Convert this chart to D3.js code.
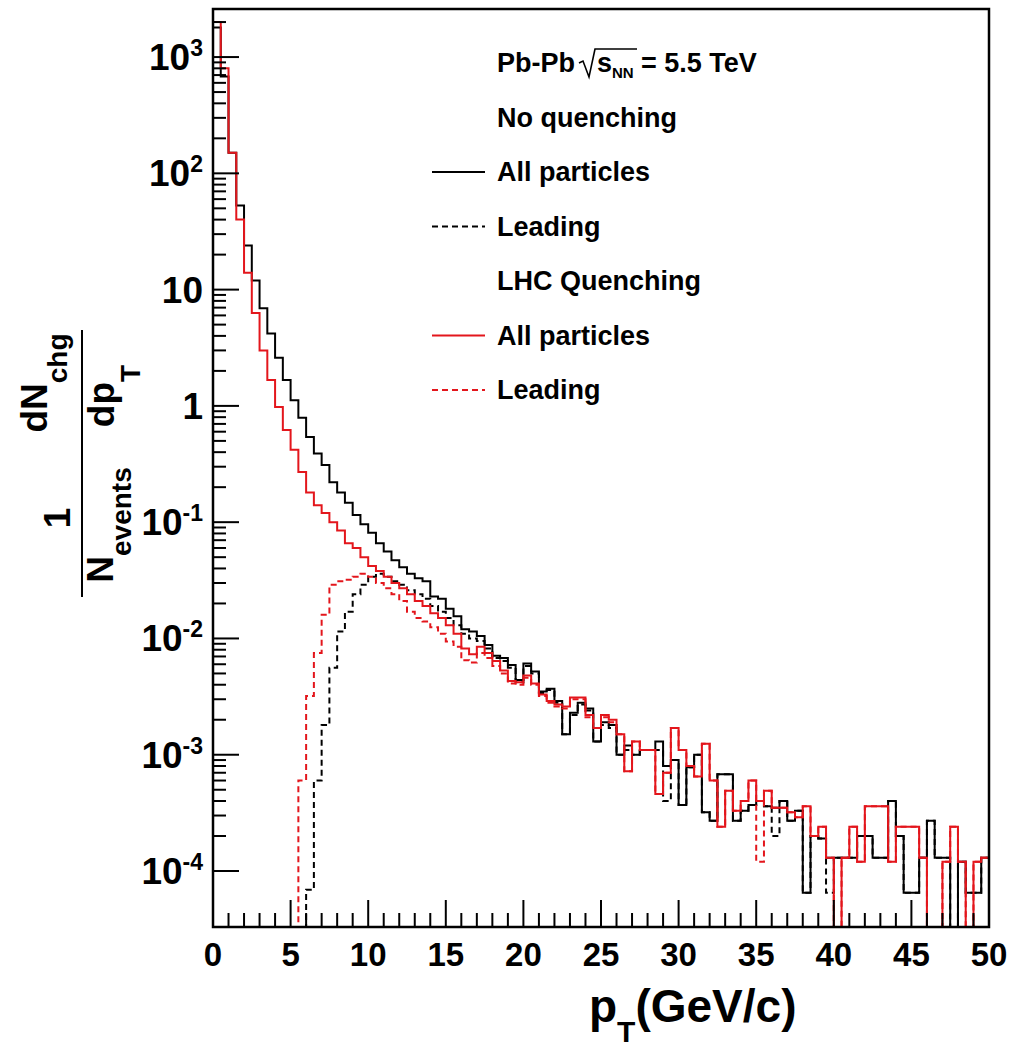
<!DOCTYPE html>
<html>
<head>
<meta charset="utf-8">
<script src="https://cdn.jsdelivr.net/npm/d3@7"></script>
<style>
  body { margin: 0; background: #fff; }
  text { font-family: "Liberation Sans", Arial, Helvetica, sans-serif; font-weight: bold; fill: #000; }
</style>
</head>
<body>
<svg width="1013" height="1050"></svg>
<script>
// Histogram binning: 100 bins of 0.5 GeV/c from 0 to 50
var binWidth = 0.5;
var nBins = 100;

// No quenching, all charged particles
var noQuenchAll = [
  1800, 680, 150, 53, 24, 12, 6.9, 4.2, 2.6, 1.67,
  1.12, 0.79, 0.54, 0.39, 0.31, 0.22, 0.18, 0.147, 0.115, 0.096,
  0.081, 0.066, 0.056, 0.047, 0.041, 0.036, 0.033, 0.031, 0.023, 0.022,
  0.018, 0.0155, 0.012, 0.0115, 0.0105, 0.0088, 0.0071, 0.0068, 0.0059, 0.0044,
  0.0061, 0.0052, 0.0035, 0.0037, 0.0029, 0.0015, 0.0023, 0.0028, 0.0025, 0.0013,
  0.0019, 0.0018, 0.0010, 0.0012, 0.0010, 0.0011, 0.0011, 0.0013, 0.00080, 0.00090,
  0.00037, 0.00078, 0.0010, 0.00032, 0.00027, 0.00068, 0.00068, 0.00027, 0.00033, 0.00037,
  0.00040, 0.00036, 0.00035, 0.00040, 0.00027, 0.00033, 0.000065, 0.00020, 0.00019, 0.00013,
  0.00013, 0.00013, 0.00013, 0.00020, 0.00020, 0.00013, 0.00013, 0.00040, 0.00020, 0.000065,
  0.000065, 0.00013, 0.00027, 0.00013, 0.00013, 0, 0.00012, 0.000065, 0.000065, 0.00013
];

// No quenching, leading particle
var noQuenchLead = [
  0, 0, 0, 0, 0, 0, 0, 0, 0, 0,
  0, 0, 0.000069, 0.0006, 0.0018, 0.0056, 0.0115, 0.017, 0.024, 0.029,
  0.034, 0.036, 0.034, 0.031, 0.029, 0.026, 0.024, 0.022, 0.019, 0.017,
  0.015, 0.013, 0.011, 0.010, 0.0095, 0.0082, 0.0068, 0.0064, 0.0056, 0.0042,
  0.0058, 0.0050, 0.0034, 0.0036, 0.0028, 0.0015, 0.0022, 0.0027, 0.0024, 0.0013,
  0.0018, 0.0017, 0.0010, 0.0011, 0.0010, 0.0011, 0.0011, 0.0011, 0.00040, 0.00090,
  0.00037, 0.00078, 0.0010, 0.00032, 0.00027, 0.00068, 0.00068, 0.00027, 0.00033, 0.00037,
  0.00040, 0.00036, 0.00020, 0.00040, 0.00027, 0.00033, 0.000065, 0.00020, 0.00019, 0.000065,
  0.00013, 0.00013, 0.00013, 0.00020, 0.00020, 0.00013, 0.00013, 0.00040, 0.00020, 0.000065,
  0.000065, 0.00013, 0.00027, 0.00013, 0.00013, 0, 0.00012, 0.000065, 0.000065, 0.00013
];

// LHC quenching, all charged particles
var quenchAll = [
  2000, 800, 150, 40, 14, 6.3, 3.0, 1.67, 0.98, 0.62,
  0.42, 0.27, 0.18, 0.14, 0.12, 0.10, 0.085, 0.066, 0.060, 0.050,
  0.042, 0.038, 0.034, 0.030, 0.027, 0.024, 0.021, 0.019, 0.0165, 0.015,
  0.013, 0.011, 0.0082, 0.0073, 0.0085, 0.0075, 0.0064, 0.0053, 0.0043, 0.0042,
  0.0048, 0.0041, 0.0033, 0.0029, 0.0027, 0.0026, 0.0031, 0.0031, 0.0022, 0.0017,
  0.0022, 0.0020, 0.0015, 0.00072, 0.0013, 0.0011, 0.0011, 0.00046, 0.00070, 0.0017,
  0.0011, 0.00080, 0.00065, 0.00124, 0.00060, 0.00024, 0.00049, 0.00033, 0.00040, 0.00060,
  0.00040, 0.00049, 0.00035, 0.00035, 0.00032, 0.00029, 0.00036, 0.00020, 0.00024, 0.00013,
  0, 0.00013, 0.00024, 0.00012, 0.00036, 0.00036, 0.00036, 0.00012, 0.00024, 0.00024,
  0.00024, 0.00013, 0, 0, 0.00012, 0.00024, 0.00012, 0, 0.00012, 0.00013
];

// LHC quenching, leading particle
var quenchLead = [
  0, 0, 0, 0, 0, 0, 0, 0, 0, 0,
  0, 0.0006, 0.0032, 0.0075, 0.016, 0.029, 0.031, 0.032, 0.034, 0.036,
  0.034, 0.030, 0.027, 0.024, 0.021, 0.017, 0.015, 0.014, 0.0125, 0.011,
  0.0094, 0.0085, 0.0065, 0.0062, 0.0075, 0.0068, 0.0058, 0.0050, 0.0041, 0.0040,
  0.0046, 0.0040, 0.0032, 0.0028, 0.0026, 0.0025, 0.0030, 0.0030, 0.0021, 0.0017,
  0.0021, 0.0019, 0.0015, 0.00072, 0.0013, 0.0011, 0.0011, 0.00046, 0.00070, 0.0017,
  0.0011, 0.00080, 0.00065, 0.00124, 0.00060, 0.00024, 0.00049, 0.00033, 0.00040, 0.00060,
  0.00012, 0.00049, 0.00035, 0.00035, 0.00032, 0.00029, 0.00036, 0.00020, 0.00024, 0.00013,
  0, 0.00013, 0.00024, 0.00012, 0.00036, 0.00036, 0.00036, 0.00012, 0.00024, 0.00024,
  0.00024, 0.00013, 0, 0, 0.00012, 0.00024, 0.00012, 0, 0.00012, 0.00013
];

var xTicksMajor = [0, 5, 10, 15, 20, 25, 30, 35, 40, 45, 50];
var yDecades = [-4, -3, -2, -1, 0, 1, 2, 3];

var legendRows = [
  {label: "No quenching"},
  {label: "All particles", color: "#000", dash: null},
  {label: "Leading", color: "#000", dash: "6,4"},
  {label: "LHC Quenching"},
  {label: "All particles", color: "#e3161c", dash: null},
  {label: "Leading", color: "#e3161c", dash: "6,4"}
];

var series = [
  {values: noQuenchAll, color: "#000", dash: null},
  {values: noQuenchLead, color: "#000", dash: "6,4"},
  {values: quenchAll, color: "#e3161c", dash: null},
  {values: quenchLead, color: "#e3161c", dash: "6,4"}
];

var svg = d3.select("svg"),
    frame = {left: 213, right: 989, top: 9, bottom: 927};

var x = d3.scaleLinear().domain([0, 50]).range([frame.left, frame.right]);
var y = d3.scaleLog().domain([3.3e-5, 2590]).range([frame.bottom, frame.top]).clamp(true);

// Histograms drawn as steps; empty bins sit on the bottom of the frame
var step = d3.line()
    .x(function(d) { return x(d[0]); })
    .y(function(d) { return d[1] > 0 ? y(d[1]) : frame.bottom; })
    .curve(d3.curveStepAfter);

var plot = svg.append("g");
plot.append("clipPath").attr("id", "clip")
  .append("rect")
    .attr("x", frame.left).attr("y", frame.top)
    .attr("width", frame.right - frame.left).attr("height", frame.bottom - frame.top);

series.forEach(function(s) {
  var pts = s.values.map(function(v, i) { return [i * binWidth, v]; });
  pts.push([nBins * binWidth, s.values[nBins - 1]]);
  plot.append("path")
    .datum(pts)
    .attr("clip-path", "url(#clip)")
    .attr("d", step)
    .attr("fill", "none")
    .attr("stroke", s.color)
    .attr("stroke-width", 2)
    .attr("stroke-dasharray", s.dash);
});

// Frame
svg.append("rect")
  .attr("x", frame.left).attr("y", frame.top)
  .attr("width", frame.right - frame.left).attr("height", frame.bottom - frame.top)
  .attr("fill", "none").attr("stroke", "#000").attr("stroke-width", 2.5);

// X ticks (inward) and labels
var xMinor = d3.range(0, 51, 1);
svg.append("g").selectAll("line").data(xMinor).enter().append("line")
  .attr("x1", function(d) { return x(d); }).attr("x2", function(d) { return x(d); })
  .attr("y1", frame.bottom)
  .attr("y2", function(d) { return frame.bottom - (d % 5 === 0 ? 27 : 14); })
  .attr("stroke", "#000").attr("stroke-width", 2);

svg.append("g").selectAll("text").data(xTicksMajor).enter().append("text")
  .attr("x", function(d) { return x(d); })
  .attr("y", 966)
  .attr("text-anchor", "middle")
  .style("font-size", "33px")
  .text(function(d) { return d; });

// Y ticks: decades and 2..9 minor marks
var yMinor = [];
yDecades.forEach(function(e) {
  d3.range(1, 10).forEach(function(m) { yMinor.push({v: m * Math.pow(10, e), major: m === 1}); });
});
yMinor = yMinor.filter(function(d) { return d.v >= y.domain()[0] && d.v <= y.domain()[1]; });
svg.append("g").selectAll("line").data(yMinor).enter().append("line")
  .attr("x1", frame.left)
  .attr("x2", function(d) { return frame.left + (d.major ? 26 : 13); })
  .attr("y1", function(d) { return y(d.v); }).attr("y2", function(d) { return y(d.v); })
  .attr("stroke", "#000").attr("stroke-width", 2);

var yLab = svg.append("g").selectAll("text").data(yDecades).enter().append("text")
  .attr("x", 203)
  .attr("y", function(d) { return y(Math.pow(10, d)) + 13; })
  .attr("text-anchor", "end")
  .style("font-size", "37px");
yLab.each(function(d) {
  var t = d3.select(this);
  if (d === 0) { t.text("1"); return; }
  if (d === 1) { t.text("10"); return; }
  t.append("tspan").text("10");
  t.append("tspan").attr("dy", -14).style("font-size", "23px").text(d);
});

// X axis title
var xt = svg.append("text").attr("x", 589).attr("y", 1022).style("font-size", "46px");
xt.append("tspan").text("p");
xt.append("tspan").attr("dy", 20).style("font-size", "30px").text("T");
xt.append("tspan").attr("dy", -20).text("(GeV/c)");

// Y axis title: 1/N_events * dN_chg/dp_T, rotated
var yt = svg.append("g").attr("transform", "translate(82,464) rotate(-90)");
yt.append("line").attr("x1", -133).attr("x2", 134).attr("y1", 0).attr("y2", 0)
  .attr("stroke", "#000").attr("stroke-width", 2);
yt.append("text").attr("x", -54).attr("y", -12).attr("text-anchor", "middle")
  .style("font-size", "37px").text("1");
var den1 = yt.append("text").attr("x", -61).attr("y", 31).attr("text-anchor", "middle")
  .style("font-size", "37px");
den1.append("tspan").text("N");
den1.append("tspan").attr("dy", 18).style("font-size", "28px").text("events");
var num2 = yt.append("text").attr("x", 81).attr("y", -35).attr("text-anchor", "middle")
  .style("font-size", "37px");
num2.append("tspan").text("dN");
num2.append("tspan").attr("dy", 20).style("font-size", "28px").text("chg");
var den2 = yt.append("text").attr("x", 68).attr("y", 32).attr("text-anchor", "middle")
  .style("font-size", "37px");
den2.append("tspan").text("dp");
den2.append("tspan").attr("dy", 26).style("font-size", "28px").text("T");

// Legend
var legX = 497, legY0 = 72, legStep = 54.5, legFont = "27px";
svg.append("text").attr("x", legX).attr("y", legY0).style("font-size", legFont).text("Pb-Pb");
svg.append("path")
  .attr("d", "M579," + (legY0 - 9) + " L583," + (legY0 - 11) + " L589," + (legY0 + 5) +
             " L595," + (legY0 - 23) + " L637," + (legY0 - 23))
  .attr("fill", "none").attr("stroke", "#000").attr("stroke-width", 1.6);
var sNN = svg.append("text").attr("x", 597).attr("y", legY0).style("font-size", legFont);
sNN.append("tspan").text("s");
sNN.append("tspan").attr("dy", 6).style("font-size", "15px").text("NN");
svg.append("text").attr("x", 641).attr("y", legY0).style("font-size", legFont).text("= 5.5 TeV");

legendRows.forEach(function(r, i) {
  var by = legY0 + legStep * (i + 1);
  svg.append("text").attr("x", legX).attr("y", by).style("font-size", legFont).text(r.label);
  if (r.color) {
    svg.append("line")
      .attr("x1", 432).attr("x2", 485)
      .attr("y1", by - 9).attr("y2", by - 9)
      .attr("stroke", r.color).attr("stroke-width", 2)
      .attr("stroke-dasharray", r.dash);
  }
});
</script>
</body>
</html>
